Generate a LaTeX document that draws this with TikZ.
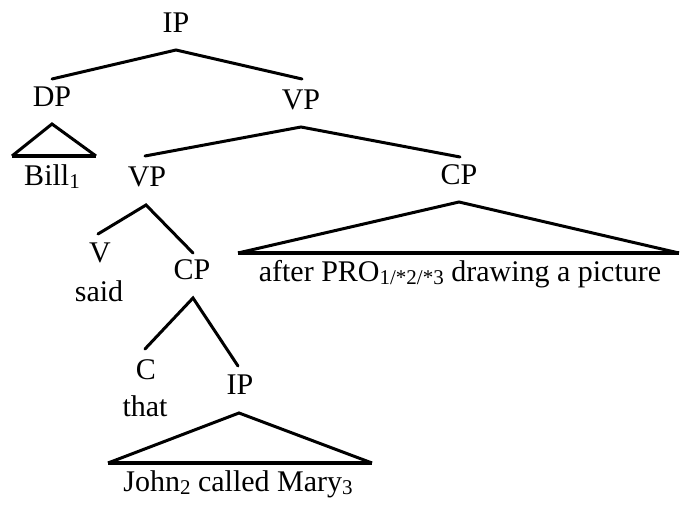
\documentclass[tikz,border=0pt]{standalone}
\usepackage{fontspec}
\setmainfont{Liberation Serif}
\newcommand{\sbx}[1]{\raisebox{-0.1em}{\fontsize{21}{22}\selectfont #1}}
\begin{document}
\begin{tikzpicture}[x=1pt,y=-1pt,
  lab/.style={anchor=base,inner sep=0pt,font=\fontsize{30}{34}\selectfont},
  edge/.style={line width=3pt,line cap=round},
  tri/.style={line width=3pt,line join=miter},
  base/.style={line width=4pt}]
\useasboundingbox (0,0) rectangle (681,505);
% labels
\node[lab] (ip1) at (176,33) {IP};
\node[lab] (dp) at (52,107) {DP};
\node[lab] (vp1) at (301,110) {VP};
\node[lab] (bill) at (52,186) {Bill\sbx{1}};
\node[lab] (vp2) at (147,187) {VP};
\node[lab] (cp1) at (459,185) {CP};
\node[lab] (after) at (460,282) {after PRO\sbx{1/*2/*3} drawing a picture};
\node[lab] (v) at (100,263) {V};
\node[lab] (said) at (99,302) {said};
\node[lab] (cp2) at (192,280) {CP};
\node[lab] (c) at (146,380) {C};
\node[lab] (that) at (145,417) {that};
\node[lab] (ip2) at (240,395) {IP};
\node[lab] (john) at (238,491) {John\sbx{2} called Mary\sbx{3}};
% coordinates
\coordinate (ipA) at (176,50);
\coordinate (dpE) at (52,79);
\coordinate (vp1E) at (302,79);
\coordinate (billA) at (52,124);
\coordinate (billL) at (12,156);
\coordinate (billR) at (96,156);
\coordinate (vp1A) at (301,127);
\coordinate (vp2E) at (145,156);
\coordinate (cp1E) at (460,157);
\coordinate (cp1A) at (459,202);
\coordinate (cp1L) at (238,253);
\coordinate (cp1R) at (679,253);
\coordinate (vp2A) at (146,205);
\coordinate (vE) at (98,234);
\coordinate (cp2E) at (193,253);
\coordinate (cp2A) at (193,298);
\coordinate (cE) at (145,349);
\coordinate (ip2E) at (238,366);
\coordinate (ip2A) at (239,413);
\coordinate (ip2L) at (108,463);
\coordinate (ip2R) at (372,463);
% edges
\draw[edge] (dpE) -- (ipA) -- (vp1E);
\draw[edge] (vp2E) -- (vp1A) -- (cp1E);
\draw[edge] (vE) -- (vp2A) -- (cp2E);
\draw[edge] (cE) -- (cp2A) -- (ip2E);
% triangles
\draw[tri] (billL) -- (billA) -- (billR);
\draw[base] (billL) -- (billR);
\draw[tri] (cp1L) -- (cp1A) -- (cp1R);
\draw[base] (cp1L) -- (cp1R);
\draw[tri] (ip2L) -- (ip2A) -- (ip2R);
\draw[base] (ip2L) -- (ip2R);
\end{tikzpicture}
\end{document}
